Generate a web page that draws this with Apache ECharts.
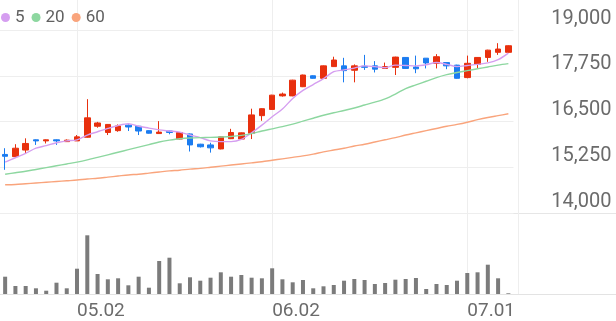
<!DOCTYPE html>
<html><head><meta charset="utf-8">
<script src="https://cdn.jsdelivr.net/npm/echarts@6/dist/echarts.min.js"></script>
<style>html,body{margin:0;padding:0;background:#fff;overflow:hidden}#c{width:616px;height:321px}</style>
</head><body><div id="c"></div>
<script>
const dates = ['04.22','04.23','04.24','04.25','04.28','04.29','04.30','05.02','05.07','05.08',
  '05.09','05.12','05.13','05.14','05.15','05.16','05.19','05.20','05.21','05.22',
  '05.23','05.26','05.27','05.28','05.29','05.30','06.02','06.04','06.05','06.09',
  '06.10','06.11','06.12','06.13','06.16','06.17','06.18','06.19','06.20','06.23',
  '06.24','06.25','06.26','06.27','06.30','07.01','07.02','07.03','07.04','07.07'];
const opens = [15600,15540,15720,16000,15970,16000,15950,15970,16070,16370,
  16200,16250,16400,16370,16250,16170,16240,16020,16160,15880,
  15860,15750,16030,16020,16180,16660,16830,17200,17200,17450,
  17750,17680,18000,18020,17900,18010,18020,17950,17980,18250,
  17990,18230,18090,18110,18040,17700,18060,18250,18390,18390];
const closes = [15550,15770,15900,15970,16000,15970,15990,16080,16600,16460,
  16420,16380,16350,16240,16180,16210,16200,16200,15860,15810,
  15780,16080,16200,16190,16680,16850,17220,17250,17630,17770,
  17680,18020,18180,17890,18020,17980,17930,18000,18260,17950,
  17940,18100,18270,18020,17680,18090,18250,18450,18480,18570];
const lows = [15180,15530,15630,15860,15900,15860,15940,15970,16060,16330,
  16130,16220,16240,16130,16170,16160,16150,16010,15680,15790,
  15650,15740,16020,16010,16020,16520,16820,17180,17190,17440,
  17670,17670,17990,17570,17570,17910,17840,17940,17770,17940,
  17820,17950,17950,17930,17670,17680,17950,18130,18320,18380];
const highs = [15770,15880,16040,16010,16010,16010,16010,16130,17110,16490,
  16430,16420,16420,16380,16260,16510,16250,16210,16170,15890,
  15920,16090,16300,16200,16850,16860,17230,17290,17640,17780,
  17760,18030,18270,18240,18060,18320,18150,18110,18270,18260,
  18300,18230,18340,18110,18050,18300,18260,18460,18640,18580];
const volumes = [173000,80000,80000,57000,33000,113000,57000,253000,587000,200000,
  147000,157000,87000,173000,63000,330000,363000,107000,167000,133000,
  163000,217000,173000,190000,163000,157000,257000,147000,117000,140000,
  57000,77000,90000,133000,150000,140000,100000,110000,143000,150000,
  160000,50000,100000,90000,133000,210000,217000,293000,157000,7000];
const ma5 = [15390,15510,15630,15770,15840,15920,15970,16000,16130,16220,
  16310,16390,16440,16370,16320,16270,16240,16210,16130,16060,
  15970,15950,15950,16010,16190,16400,16630,16840,17130,17350,
  17510,17670,17860,17910,17960,18020,18000,17970,18040,18030,
  18020,18050,18110,18060,18000,18030,18060,18100,18190,18370];
const ma20 = [15060,15100,15140,15190,15240,15290,15340,15390,15450,15520,
  15590,15660,15730,15800,15870,15940,15990,16030,16050,16060,
  16065,16075,16090,16120,16170,16240,16300,16360,16430,16510,
  16590,16670,16740,16800,16870,16950,17030,17120,17250,17400,
  17500,17600,17700,17780,17840,17890,17940,17990,18040,18080];
const ma60 = [14770,14780,14800,14820,14840,14860,14880,14900,14930,14950,
  14980,15010,15040,15060,15090,15120,15150,15170,15200,15220,
  15250,15280,15310,15340,15370,15400,15440,15480,15520,15560,
  15610,15670,15720,15770,15830,15880,15940,16000,16060,16130,
  16190,16250,16310,16370,16420,16480,16550,16610,16660,16710];
const priceMin = 14000, priceMax = 19000, priceStep = 1250;
const maNames = ['5','20','60'];
const maColors = ['#d59ef0','#8dd7a0','#f9a47c'];

const W = 616;
const plotW = 513.5;
const band = plotW / dates.length;
const isMonthStart = (i) => i > 0 && dates[i].slice(0,2) !== dates[i-1].slice(0,2);

const chart = echarts.init(document.getElementById('c'), null, {renderer:'canvas'});
const FONT = 'Roboto';
chart.setOption({
  animation: false,
  backgroundColor: '#ffffff',
  textStyle: {fontFamily: FONT},
  legend: {
    data: maNames, left: 1, top: 9, padding: 0, icon: 'circle', itemWidth: 9, itemHeight: 9, itemGap: 7,
    textStyle: {fontSize: 17, color: '#606060', fontFamily: FONT}
  },
  grid: [
    {left: 0, top: 30, width: plotW, height: 183},
    {left: 0, top: 215, width: plotW, height: 79},
    {left: band/2, top: 0, width: plotW, height: 294}
  ],
  xAxis: [
    {type:'category', gridIndex:0, data: dates, boundaryGap: true, show: false},
    {type:'category', gridIndex:1, data: dates, boundaryGap: true,
      axisLine:{show:true, lineStyle:{color:'#e3e3e3', width:1}},
      axisTick:{show:false}, splitLine:{show:false},
      axisLabel:{show:true, interval:(i)=>isMonthStart(i), align:'left', margin:8,
        fontSize:19, color:'#6b6b6b', fontFamily: FONT}},
    {type:'category', gridIndex:2, data: dates, boundaryGap: true,
      axisLine:{show:false}, axisTick:{show:false}, axisLabel:{show:false},
      splitLine:{show:true, interval:(i)=>isMonthStart(i), lineStyle:{color:'#eeeeee', width:1}}}
  ],
  yAxis: [
    {type:'value', gridIndex:0, position:'right', min: priceMin, max: priceMax, interval: priceStep,
      axisLine:{show:false}, axisTick:{show:false},
      splitLine:{show:true, lineStyle:{color:'#eeeeee', width:1}},
      axisLabel:{show:true, align:'right', margin:98, verticalAlign:'bottom', lineHeight:23,
        fontSize:20, color:'#6b6b6b', fontFamily: FONT,
        formatter:(v)=>v.toLocaleString('en-US')}},
    {type:'value', gridIndex:1, min:0, max:790000, show:false},
    {type:'value', gridIndex:2, show:false, min:0, max:1}
  ],
  graphic: [
    {type:'line', shape:{x1:plotW-2, y1:213.5, x2:W, y2:213.5}, style:{stroke:'#e6e6e6', lineWidth:1}, silent:true},
    {type:'line', shape:{x1:plotW-2, y1:294.5, x2:W, y2:294.5}, style:{stroke:'#e3e3e3', lineWidth:1}, silent:true}
  ],
  series: [
    ...maNames.map((n, k) => ({
      name: n, type: 'line', xAxisIndex: 0, yAxisIndex: 0,
      data: [ma5, ma20, ma60][k], showSymbol: false, smooth: 0.3,
      itemStyle: {color: maColors[k]},
      lineStyle: {color: maColors[k], width: 1.4}
    })),
    {
      name: 'price', type: 'candlestick', xAxisIndex: 0, yAxisIndex: 0, barWidth: 6,
      data: dates.map((d, i) => [opens[i], closes[i], lows[i], highs[i]]),
      itemStyle: {color:'#e8300e', color0:'#1b7cf0', borderColor:'#e8300e', borderColor0:'#1b7cf0', borderWidth:1}
    },
    {
      name: 'volume', type: 'bar', xAxisIndex: 1, yAxisIndex: 1, barWidth: 4,
      data: volumes, itemStyle: {color: '#7b7b7b'}
    }
  ]
});
</script>
</body></html>
